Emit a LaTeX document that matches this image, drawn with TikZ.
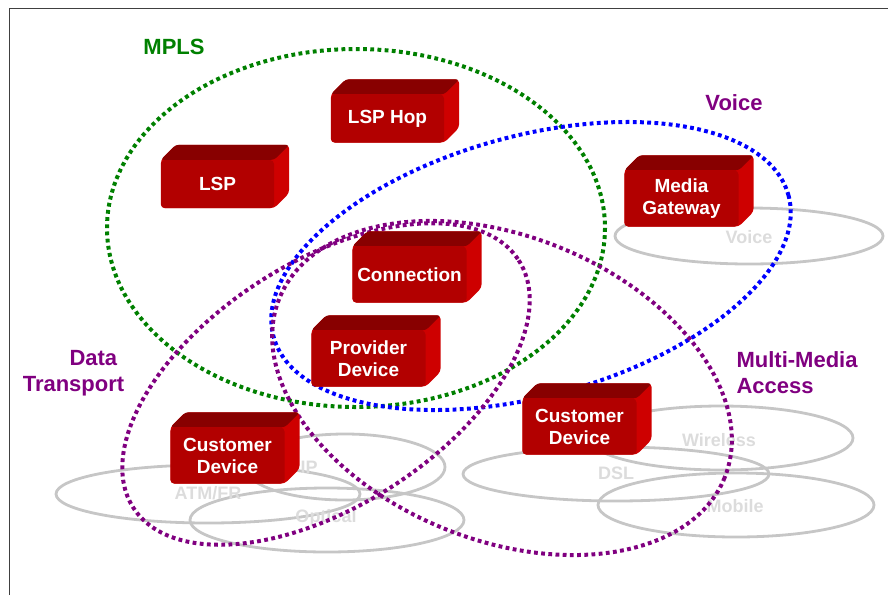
\documentclass[tikz,border=0pt]{standalone}
\usepackage{fontspec}
\setmainfont{Liberation Sans}
\usetikzlibrary{calc,backgrounds}

\definecolor{frontred}{RGB}{178,0,0}
\definecolor{topred}{RGB}{136,0,0}
\definecolor{sidered}{RGB}{206,0,0}
\definecolor{mplsgreen}{RGB}{0,128,0}
\definecolor{voiceblue}{RGB}{0,0,255}
\definecolor{accpurple}{RGB}{128,0,128}
\definecolor{linkgray}{RGB}{198,198,198}
\definecolor{linktext}{RGB}{220,220,220}

\begin{document}
\begin{tikzpicture}[x=1pt, y=-1pt,
  device/.style={fill=frontred, text=white, rounded corners=4pt, minimum width=114pt, minimum height=56pt, inner sep=0pt, align=center, font=\fontsize{19}{22}\selectfont\bfseries},
  lspbox/.style={device, minimum width=113pt, minimum height=48pt},
  areaname/.style={font=\fontsize{22}{26}\selectfont\bfseries},
  dotring/.style={line width=4pt, dash pattern=on 3.8pt off 3.4pt},
  link/.style={draw=linkgray, line width=2.8pt},
  linklabel/.style={text=linktext, font=\fontsize{18}{20}\selectfont\bfseries}]
\useasboundingbox (0,0) rectangle (888,595);

% frame
\draw[line width=1.6pt, black!75] (9.5,595) -- (9.5,8.5) -- (888,8.5);

% devices
\node[lspbox] (lsphop) at (387.5,118.5) {LSP Hop};
\node[lspbox] (lsp) at (217.5,184) {LSP};
\node[device] (media) at (681.5,198.5) {Media\\Gateway};
\node[device] (conn) at (409.5,274.5) {Connection};
\node[device] (provider) at (368.5,358.5) {Provider\\Device};
\node[device] (custl) at (227.5,455.5) {Customer\\Device};
\node[device] (custr) at (579.5,426.5) {Customer\\Device};

% area names
\node[areaname, text=mplsgreen] (mpls) at (174,47) {MPLS};
\node[areaname, text=accpurple] (voice) at (734,103) {Voice};
\node[areaname, text=accpurple, align=right] (data) at (73.5,373) {Data\hspace*{7pt}\\Transport};
\node[areaname, text=accpurple, align=left, anchor=west] (access) at (733,373) {Multi-Media\\Access};

\begin{scope}[on background layer]
% access networks
\draw[link] (208,494) ellipse [x radius=152, y radius=29];
\draw[link] (345,467) ellipse [x radius=100, y radius=33];
\draw[link] (327,520) ellipse [x radius=137, y radius=32];
\draw[link] (749,236) ellipse [x radius=134, y radius=28];
\draw[link] (721,438) ellipse [x radius=132, y radius=32];
\draw[link] (616,474) ellipse [x radius=153, y radius=27];
\draw[link] (736,505) ellipse [x radius=138, y radius=32];
\node[linklabel] (ip) at (309,467) {IP};
\node[linklabel] (atm) at (208,493) {ATM/FR};
\node[linklabel] (optical) at (326,518) {Optical};
\node[linklabel] (voicenet) at (749,237) {Voice};
\node[linklabel] (wireless) at (719,440) {Wireless};
\node[linklabel] (dsl) at (616,473) {DSL};
\node[linklabel] (mobile) at (735,506) {Mobile};

% service areas
\draw[dotring, mplsgreen] (356,228) ellipse [x radius=249, y radius=179];
\draw[dotring, voiceblue, rotate around={15.4:(531,266)}] (531,266) ellipse [x radius=267, y radius=130];
\draw[dotring, accpurple, rotate around={32.7:(326,384)}] (326,384) ellipse [x radius=229, y radius=122];
\draw[dotring, accpurple, rotate around={-21.9:(502,388)}] (502,388) ellipse [x radius=240, y radius=152];

% box sides
\foreach \n in {lsphop,lsp,media,conn,provider,custl,custr} {
  \fill[sidered, rounded corners=4pt] (\n.south west) -- (\n.north west) -- ++(15,-15) -- ($(\n.north east)+(15,-15)$) -- ($(\n.south east)+(15,-15)$) -- (\n.south east) -- cycle;
  \fill[topred, rounded corners=3pt] (\n.north west) -- ++(15,-15) -- ($(\n.north east)+(15,-15)$) -- (\n.north east) -- cycle;
}
\end{scope}
\end{tikzpicture}
\end{document}
